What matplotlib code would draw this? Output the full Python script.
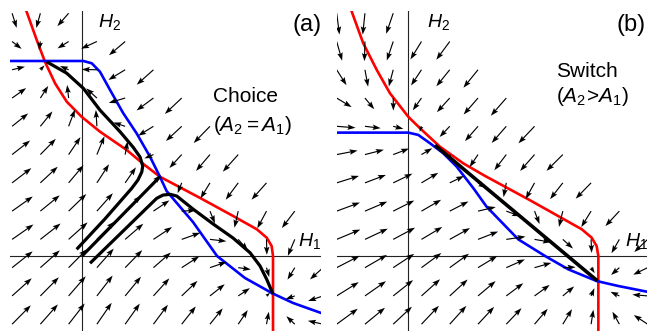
import numpy as np
import matplotlib.pyplot as plt

plt.rcParams['font.family'] = ['Liberation Sans', 'DejaVu Sans']
plt.rcParams['mathtext.fontset'] = 'custom'
plt.rcParams['mathtext.rm'] = 'Liberation Sans'
plt.rcParams['mathtext.it'] = 'Liberation Sans:italic'

# values, units with A1 = 1
# red = H1 nullcline, points (H1, H2) from top to bottom
red_a_h1 = [-0.290, -0.237, -0.194, -0.141, -0.080, -0.002, 0.094, 0.234, 0.321,
            0.408, 0.618, 0.792, 0.915, 0.967, 0.993, 1.0, 1.0]
red_a_h2 = [1.279, 1.131, 1.017, 0.904, 0.808, 0.729, 0.651, 0.555, 0.482,
            0.415, 0.304, 0.209, 0.140, 0.096, 0.052, 0.0, -0.393]
# blue = H2 nullcline, points (H1, H2) from left to right
blue_a_h1 = [-0.377, 0.007, 0.051, 0.094, 0.147, 0.215, 0.286, 0.356, 0.408,
             0.443, 0.581, 0.707, 0.853, 0.998, 1.105, 1.251]
blue_a_h2 = [1.021, 1.021, 1.009, 0.965, 0.869, 0.749, 0.642, 0.520, 0.415,
             0.340, 0.178, 0.0, -0.115, -0.196, -0.246, -0.298]

red_b_h1 = [-0.296, -0.236, -0.165, -0.096, 0.0, 0.061, 0.166, 0.288, 0.402,
            0.628, 0.785, 0.908, 0.960, 0.986, 0.995, 0.995]
red_b_h2 = [1.279, 1.114, 0.974, 0.852, 0.729, 0.669, 0.572, 0.485, 0.419,
            0.297, 0.209, 0.140, 0.096, 0.052, 0.0, -0.393]
blue_b_h1 = [-0.373, 0.0, 0.052, 0.114, 0.183, 0.253, 0.340, 0.410, 0.576,
             0.716, 0.838, 0.986, 1.099, 1.250]
blue_b_h2 = [0.646, 0.646, 0.634, 0.590, 0.538, 0.468, 0.356, 0.258, 0.087,
             0.0, -0.070, -0.131, -0.157, -0.187]

# trajectories
traj_a1_h1 = [-0.028, 0.120, 0.260, 0.293, 0.313, 0.318, 0.304, 0.269, 0.199,
              0.094, 0.007, -0.080, -0.185]
traj_a1_h2 = [0.035, 0.194, 0.354, 0.398, 0.440, 0.471, 0.518, 0.568, 0.651,
              0.764, 0.878, 0.957, 1.017]
traj_a2_h1 = [0.0, 0.408]
traj_a2_h2 = [0.0, 0.415]
traj_a3_h1 = [0.042, 0.391, 0.424, 0.461, 0.496, 0.581, 0.686, 0.791, 0.880,
              0.932, 0.967, 1.0]
traj_a3_h2 = [-0.038, 0.302, 0.319, 0.323, 0.314, 0.246, 0.168, 0.094, 0.017,
              -0.052, -0.122, -0.199]
traj_b_h1 = [0.14, 0.99]
traj_b_h2 = [0.58, -0.13]

PX = 191.0    # pixels per unit
STEP = 0.148  # spacing of the arrow grid


def draw_panel(ax, red, blue, trajs, lw_traj, x0, skip):
    red_h1, red_h2 = np.array(red[0]), np.array(red[1])
    blue_h1, blue_h2 = np.array(blue[0]), np.array(blue[1])
    # direction field from the two nullclines, arrows start at the grid points
    I, J = np.meshgrid(np.arange(12), np.arange(12))
    keep = (I - J) <= 3
    for i, j in skip:
        keep &= ~((I == i) & (J == j))
    X = x0 + I[keep] * STEP
    Y = 1.271 - J[keep] * STEP
    U = np.interp(Y, red_h2[::-1], red_h1[::-1]) - X
    V = np.interp(X, blue_h1, blue_h2) - Y
    s = np.hypot(U, V) + 1e-9
    L = 30.0 / PX * s / (s + 0.25)
    ax.quiver(X, Y, U / s * L, V / s * L, angles='xy', scale_units='xy', scale=1,
              pivot='tail', units='dots', width=1.15, headwidth=4.8, headlength=7,
              headaxislength=6, color='black', zorder=4)
    ax.axhline(0, color='#222222', lw=0.8, zorder=1)
    ax.axvline(0, color='#222222', lw=0.8, zorder=1)
    ax.plot(red_h1, red_h2, color='#ff0000', lw=1.9, zorder=2)
    ax.plot(blue_h1, blue_h2, color='#0000ff', lw=1.9, zorder=2)
    for th1, th2 in trajs:
        ax.plot(th1, th2, color='black', lw=lw_traj, solid_capstyle='butt', zorder=3)
    ax.axis('off')


fig = plt.figure(figsize=(6.47, 3.32), dpi=100)
W, H = 647.0, 332.0

ax_a = fig.add_axes([10 / W, 1 / H, 311 / W, 320 / H])
ax_a.set_xlim((10 - 82) / PX, (321 - 82) / PX)
ax_a.set_ylim((256 - 331) / PX, (256 - 11) / PX)
draw_panel(ax_a, (red_a_h1, red_a_h2), (blue_a_h1, blue_a_h2),
           [(traj_a1_h1, traj_a1_h2), (traj_a2_h1, traj_a2_h2), (traj_a3_h1, traj_a3_h2)],
           2.3, -0.366, [(3, 0), (11, 8)])

ax_b = fig.add_axes([337 / W, 1 / H, 310 / W, 320 / H])
ax_b.set_xlim((337 - 408.3) / PX, (647 - 408.3) / PX)
ax_b.set_ylim((256 - 331) / PX, (256 - 11) / PX)
draw_panel(ax_b, (red_b_h1, red_b_h2), (blue_b_h1, blue_b_h2),
           [(traj_b_h1, traj_b_h2)], 2.6, -0.375, [(3, 0)])


def label(px, py, s, size, va='baseline'):
    fig.text(px / W, 1 - py / H, s, fontsize=size, ha='left', va=va)


label(98, 27, r'$H_2$', 14)
label(298, 246, r'$H_1$', 14)
label(292, 25, '(a)', 17, va='center')
label(213, 102, 'Choice', 15)
label(213, 131, r'($A_2 = A_1$)', 15)

label(427, 27, r'$H_2$', 14)
label(625, 246, r'$H_1$', 14)
label(616, 25, '(b)', 17, va='center')
label(556, 77, 'Switch', 15)
label(556, 102, r'($A_2\!>\!A_1$)', 15)

fig.savefig('out.png', dpi=100)
